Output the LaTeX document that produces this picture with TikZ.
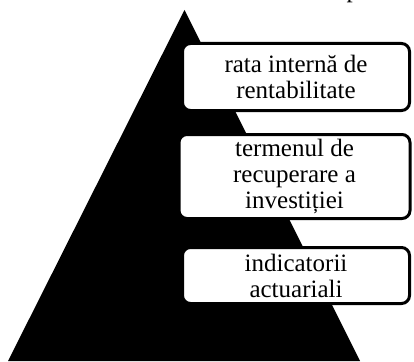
\documentclass[tikz,border=0pt]{standalone}
\usepackage{fontspec}
\setmainfont{Liberation Serif}
\begin{document}
\begin{tikzpicture}[x=1pt,y=-1pt,
  txtbox/.style={draw=black, line width=3pt, fill=white, rounded corners=8pt,
    align=center, inner sep=0pt, font=\fontsize{25}{26}\selectfont}]
\useasboundingbox (0,0) rectangle (414,361);
% pyramid
\coordinate (apex) at (184.5,10);
\coordinate (bl) at (8,361);
\coordinate (br) at (360,361);
\fill[black] (apex) -- (br) -- (bl) -- cycle;
% cut-off letter at the top
\node[inner sep=0pt, anchor=base west, font=\fontsize{25}{26}\selectfont] (ptxt) at (346.5,-2) {p};
% boxes
\node[txtbox, minimum width=227pt, minimum height=67pt] (b1) at (296,77)
  {rata internă de\\rentabilitate};
\node[txtbox, minimum width=231pt, minimum height=84pt] (b2) at (294.5,176.5)
  {termenul de\\recuperare a\\investiției};
\node[txtbox, minimum width=227pt, minimum height=56pt] (b3) at (296,275.5)
  {indicatorii\\actuariali};
\end{tikzpicture}
\end{document}
